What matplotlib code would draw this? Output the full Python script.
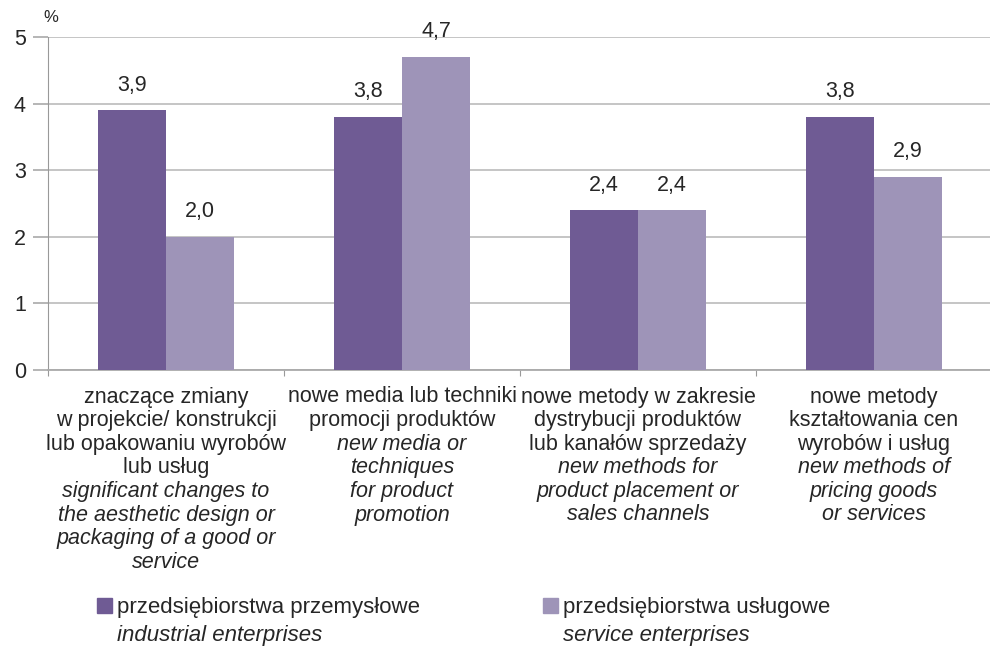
import numpy as np
import matplotlib.pyplot as plt
from matplotlib.patches import Rectangle

# udział przedsiębiorstw z innowacjami marketingowymi, w %
categories_pl = [
    ["znaczące zmiany", "w projekcie/ konstrukcji", "lub opakowaniu wyrobów", "lub usług"],
    ["nowe media lub techniki", "promocji produktów"],
    ["nowe metody w zakresie", "dystrybucji produktów", "lub kanałów sprzedaży"],
    ["nowe metody", "kształtowania cen", "wyrobów i usług"],
]
categories_en = [
    ["significant changes to", "the aesthetic design or", "packaging of a good or", "service"],
    ["new media or", "techniques", "for product", "promotion"],
    ["new methods for", "product placement or", "sales channels"],
    ["new methods of", "pricing goods", "or services"],
]
industrial = [3.9, 3.8, 2.4, 3.8]
services = [2.0, 4.7, 2.4, 2.9]
series_pl = ["przedsiębiorstwa przemysłowe", "przedsiębiorstwa usługowe"]
series_en = ["industrial enterprises", "service enterprises"]

dark = "#6f5b94"
light = "#9e94b8"
text_col = "#262626"
font = ["Liberation Sans", "DejaVu Sans"]
plt.rcParams["font.family"] = font

W, H = 990, 646
fig = plt.figure(figsize=(W / 100, H / 100), dpi=100)
ax = fig.add_axes([48 / W, 1 - 370 / H, 944 / W, 333 / H])

x = np.arange(len(industrial))
w = 0.288
b1 = ax.bar(x - w / 2, industrial, w, color=dark, zorder=3)
b2 = ax.bar(x + w / 2, services, w, color=light, zorder=3)

for bars, vals in ((b1, industrial), (b2, services)):
    for r, v in zip(bars, vals):
        ax.text(r.get_x() + r.get_width() / 2, v + 0.22, f"{v:.1f}".replace(".", ","),
                ha="center", va="bottom", fontsize=15.5, color=text_col)

ax.set_xlim(-0.5, len(industrial) - 0.5)
ax.set_ylim(0, 5)
ax.set_yticks(range(6))
ax.yaxis.grid(True, color="#c0c0c0", linewidth=1.3, zorder=0)
ax.tick_params(axis="y", length=11, width=1.3, color="#b0b0b0", labelsize=15.5,
               labelcolor=text_col, pad=5)

# podziałki osi X na granicach kategorii
ax.set_xticks(np.arange(-0.5, len(industrial)))
ax.set_xticklabels([])
ax.tick_params(axis="x", length=4, color="#999999", direction="out")
for s in ("top", "right"):
    ax.spines[s].set_visible(False)
ax.spines["left"].set_color("#999999")
ax.spines["bottom"].set_color("#aaaaaa")
ax.spines["bottom"].set_linewidth(1.3)

fig.text(51 / W, 1 - 18 / H, "%", ha="center", va="center", fontsize=12, color=text_col)

# opisy kategorii: polski + angielski kursywą, linia po linii
line_h = 23.6
for i, (pl, en) in enumerate(zip(categories_pl, categories_en)):
    xc = ax.transData.transform((i, 0))[0] / fig.bbox.width
    lines = [(t, "normal") for t in pl] + [(t, "italic") for t in en]
    for k, (t, st) in enumerate(lines):
        fig.text(xc, 1 - (397 + k * line_h) / H, t, ha="center", va="center",
                 fontsize=15.5, color=text_col, style=st)

# legenda
for sx, col, pl, en in ((97, dark, series_pl[0], series_en[0]),
                        (543, light, series_pl[1], series_en[1])):
    fig.patches.append(Rectangle((sx / W, 1 - 613 / H), 15 / W, 15 / H,
                                 transform=fig.transFigure, color=col))
    fig.text((sx + 20) / W, 1 - 607 / H, pl, va="center", fontsize=16, color=text_col)
    fig.text((sx + 20) / W, 1 - 635 / H, en, va="center", fontsize=16,
             color=text_col, style="italic")

fig.savefig("out.png", dpi=100)
